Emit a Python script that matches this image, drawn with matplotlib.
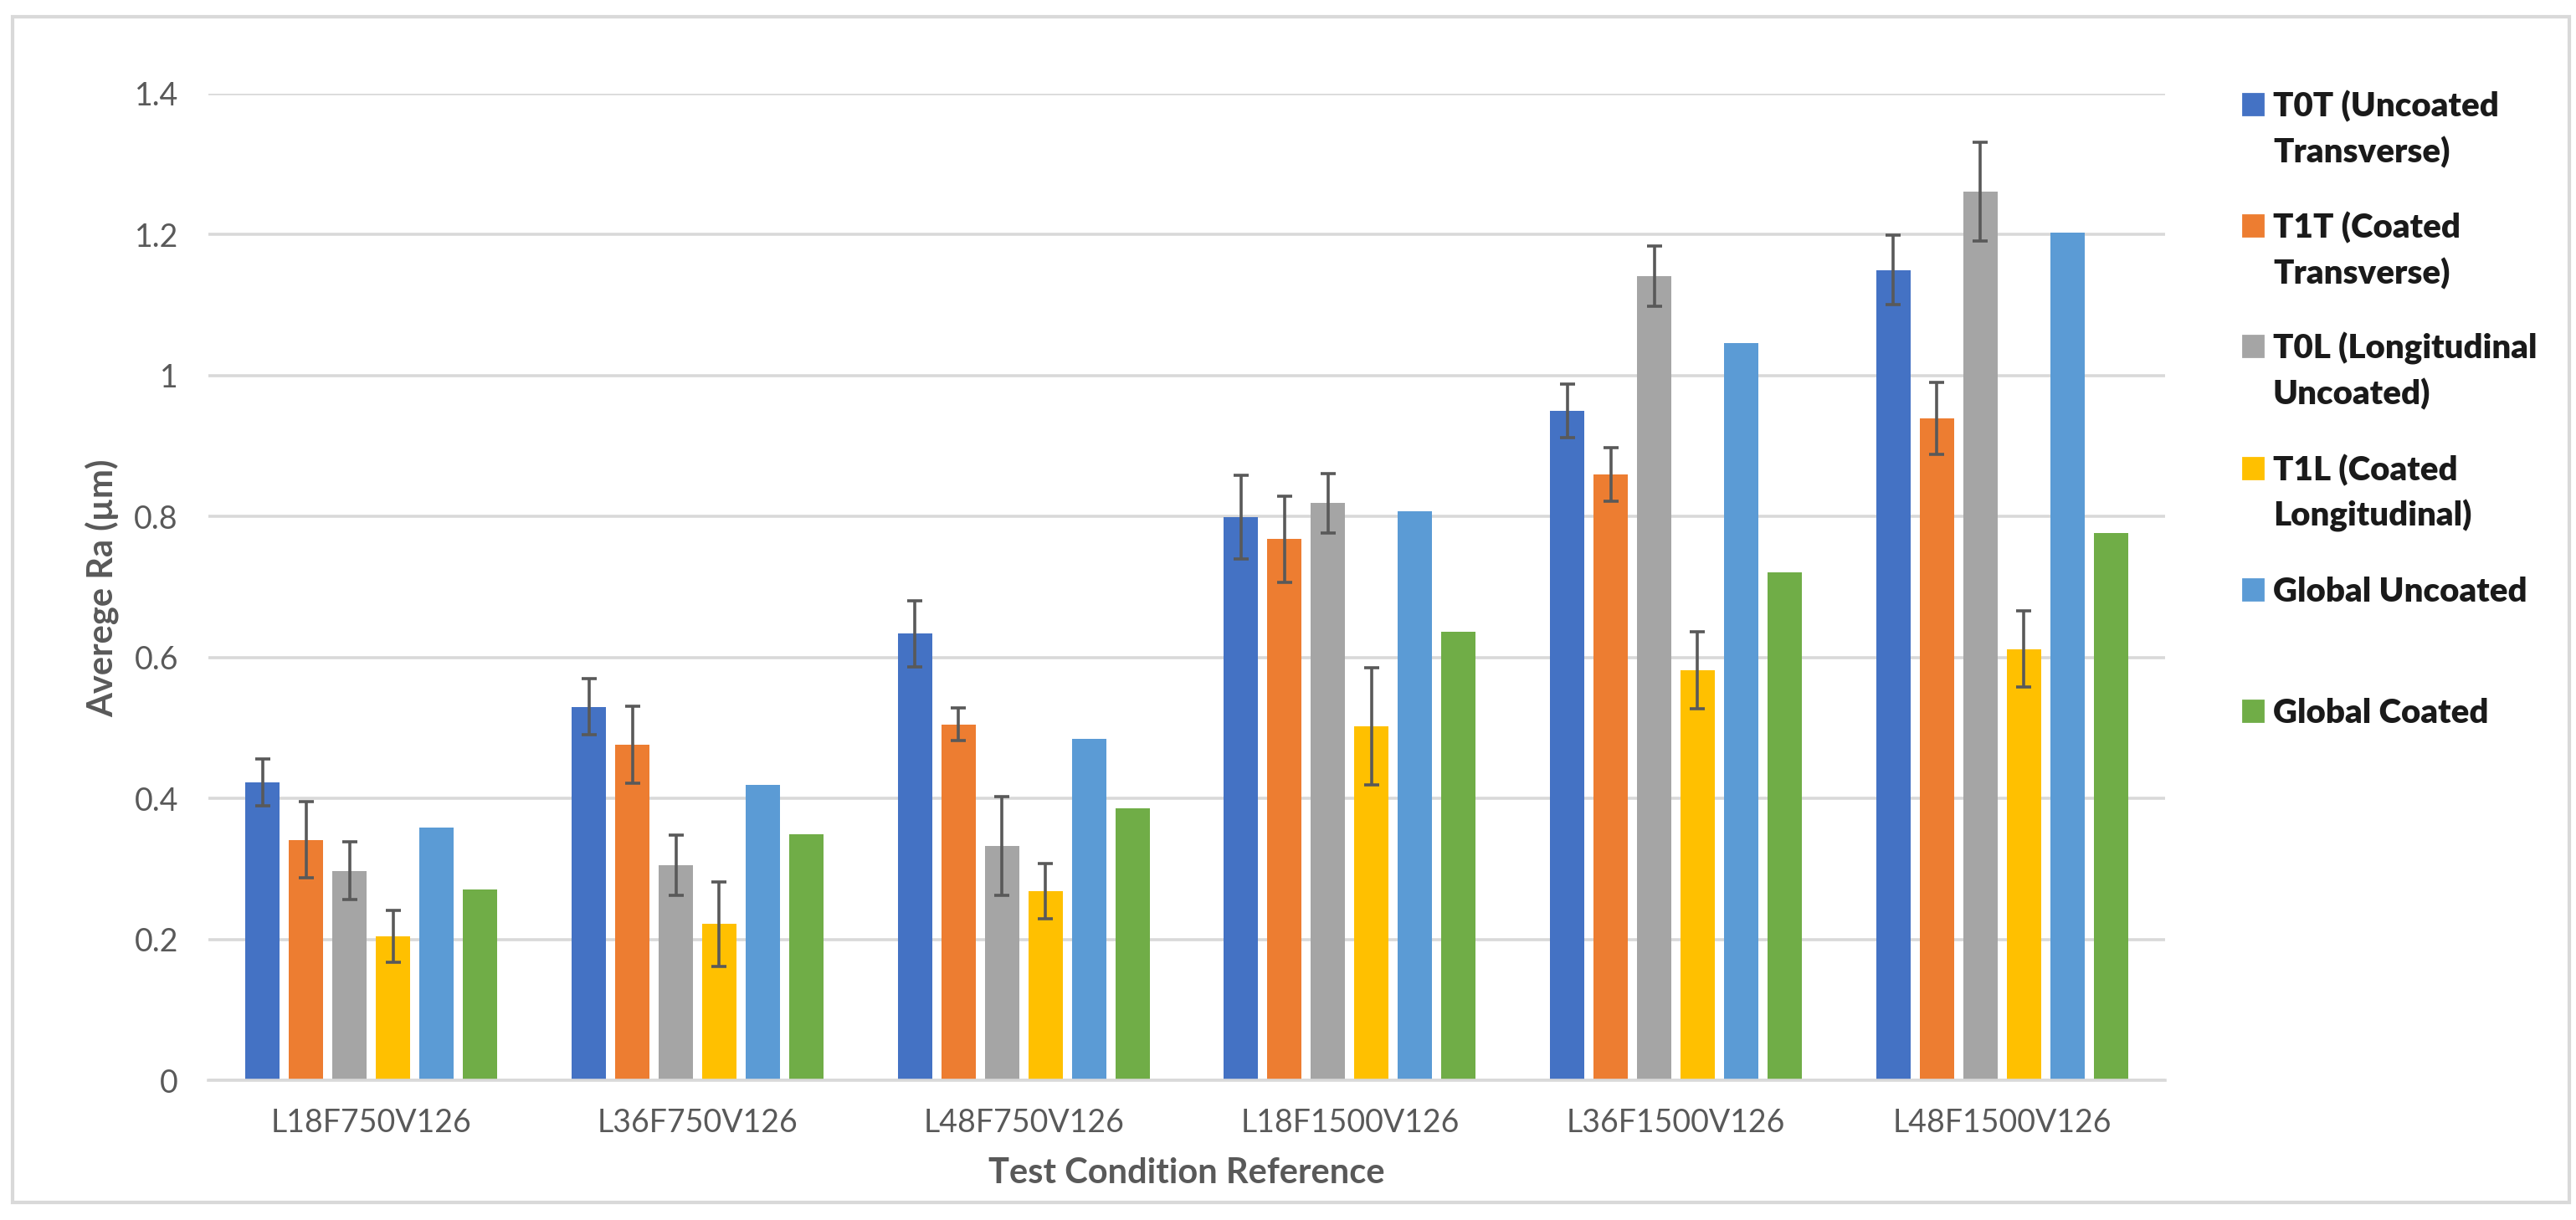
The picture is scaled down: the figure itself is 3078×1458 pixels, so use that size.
import numpy as np
import matplotlib
matplotlib.use("Agg")
import matplotlib.pyplot as plt
from matplotlib.patches import Rectangle

plt.rcParams['font.family'] = ['Lato', 'DejaVu Sans']

# data
conditions = ["L18F750V126", "L36F750V126", "L48F750V126",
              "L18F1500V126", "L36F1500V126", "L48F1500V126"]
series_names = ["T0T (Uncoated\nTransverse)", "T1T (Coated\nTransverse)",
                "T0L (Longitudinal\nUncoated)", "T1L (Coated\nLongitudinal)",
                "Global Uncoated", "Global Coated"]

t0t = [0.423, 0.530, 0.634, 0.799, 0.950, 1.150]
t1t = [0.341, 0.476, 0.505, 0.768, 0.860, 0.939]
t0l = [0.297, 0.305, 0.333, 0.819, 1.141, 1.261]
t1l = [0.204, 0.222, 0.268, 0.502, 0.582, 0.612]
glob_unc = [0.359, 0.419, 0.484, 0.808, 1.046, 1.203]
glob_coa = [0.271, 0.349, 0.386, 0.636, 0.721, 0.777]

t0t_err = [0.033, 0.040, 0.047, 0.059, 0.038, 0.049]
t1t_err = [0.054, 0.055, 0.023, 0.061, 0.038, 0.051]
t0l_err = [0.041, 0.043, 0.070, 0.042, 0.043, 0.070]
t1l_err = [0.037, 0.060, 0.039, 0.083, 0.055, 0.054]

values = [t0t, t1t, t0l, t1l, glob_unc, glob_coa]
errors = [t0t_err, t1t_err, t0l_err, t1l_err, None, None]
colors = ["#4472C4", "#ED7D31", "#A5A5A5", "#FFC000", "#5B9BD5", "#70AD47"]

W, H = 3078, 1458
fig = plt.figure(figsize=(W / 200, H / 200), dpi=200)
ax = fig.add_axes([249 / W, 1 - 1291 / H, (2587 - 249) / W, (1291 - 112) / H])

x = np.arange(len(conditions))
pitch = 0.8 / 6
bw = 0.105
for i, (vals, err, col) in enumerate(zip(values, errors, colors)):
    pos = x + (i - 2.5) * pitch
    ax.bar(pos, vals, width=bw, color=col, zorder=2)
    if err is not None:
        ax.errorbar(pos, vals, yerr=err, fmt='none', ecolor='#595959',
                    elinewidth=1.3, capsize=3.4, capthick=1.3, zorder=3)

ax.set_xlim(-0.5, len(conditions) - 0.5)
ax.set_ylim(0, 1.4)
ax.set_yticks(np.arange(0, 1.41, 0.2))
ax.set_yticklabels(["0", "0.2", "0.4", "0.6", "0.8", "1", "1.2", "1.4"])
ax.set_xticks(x)
ax.set_xticklabels(conditions)
ax.yaxis.grid(True, color='#d9d9d9', lw=1.3, zorder=0)
ax.set_axisbelow(True)
for s in ['top', 'right', 'left']:
    ax.spines[s].set_visible(False)
ax.spines['bottom'].set_color('#d9d9d9')
ax.spines['bottom'].set_linewidth(1.3)
ax.tick_params(axis='both', length=0, labelsize=13.5, labelcolor='#595959')
ax.tick_params(axis='x', pad=12)
ax.tick_params(axis='y', pad=13)

ax.set_xlabel("Test Condition Reference", fontsize=15, fontweight='bold',
              color='#595959', labelpad=8)
fig.text(122 / W, 1 - 703 / H, "Averege Ra (µm)", rotation=90, fontsize=15,
         fontweight='bold', color='#595959', ha='center', va='center')

# legend, drawn by hand so each swatch sits on the first line of its label
leg_centers = [125, 270, 414, 560, 705, 850]
line_gap = 55
for name, col, cy in zip(series_names, colors, leg_centers):
    fig.patches.append(Rectangle((2680 / W, 1 - (cy + 12) / H), 24 / W, 25 / H,
                                 transform=fig.transFigure, color=col))
    for k, line in enumerate(name.split("\n")):
        fig.text(2716 / W, 1 - (cy + 14 + k * line_gap) / H, line, fontsize=14.5,
                 fontweight='heavy', color='#1a1a1a', ha='left', va='baseline')

# outer chart border
fig.patches.append(Rectangle((15 / W, 1 - 1437 / H), (3070 - 15) / W, (1437 - 20) / H,
                             transform=fig.transFigure, fill=False,
                             ec='#d9d9d9', lw=1.5))

fig.savefig("out.png", dpi=200)
